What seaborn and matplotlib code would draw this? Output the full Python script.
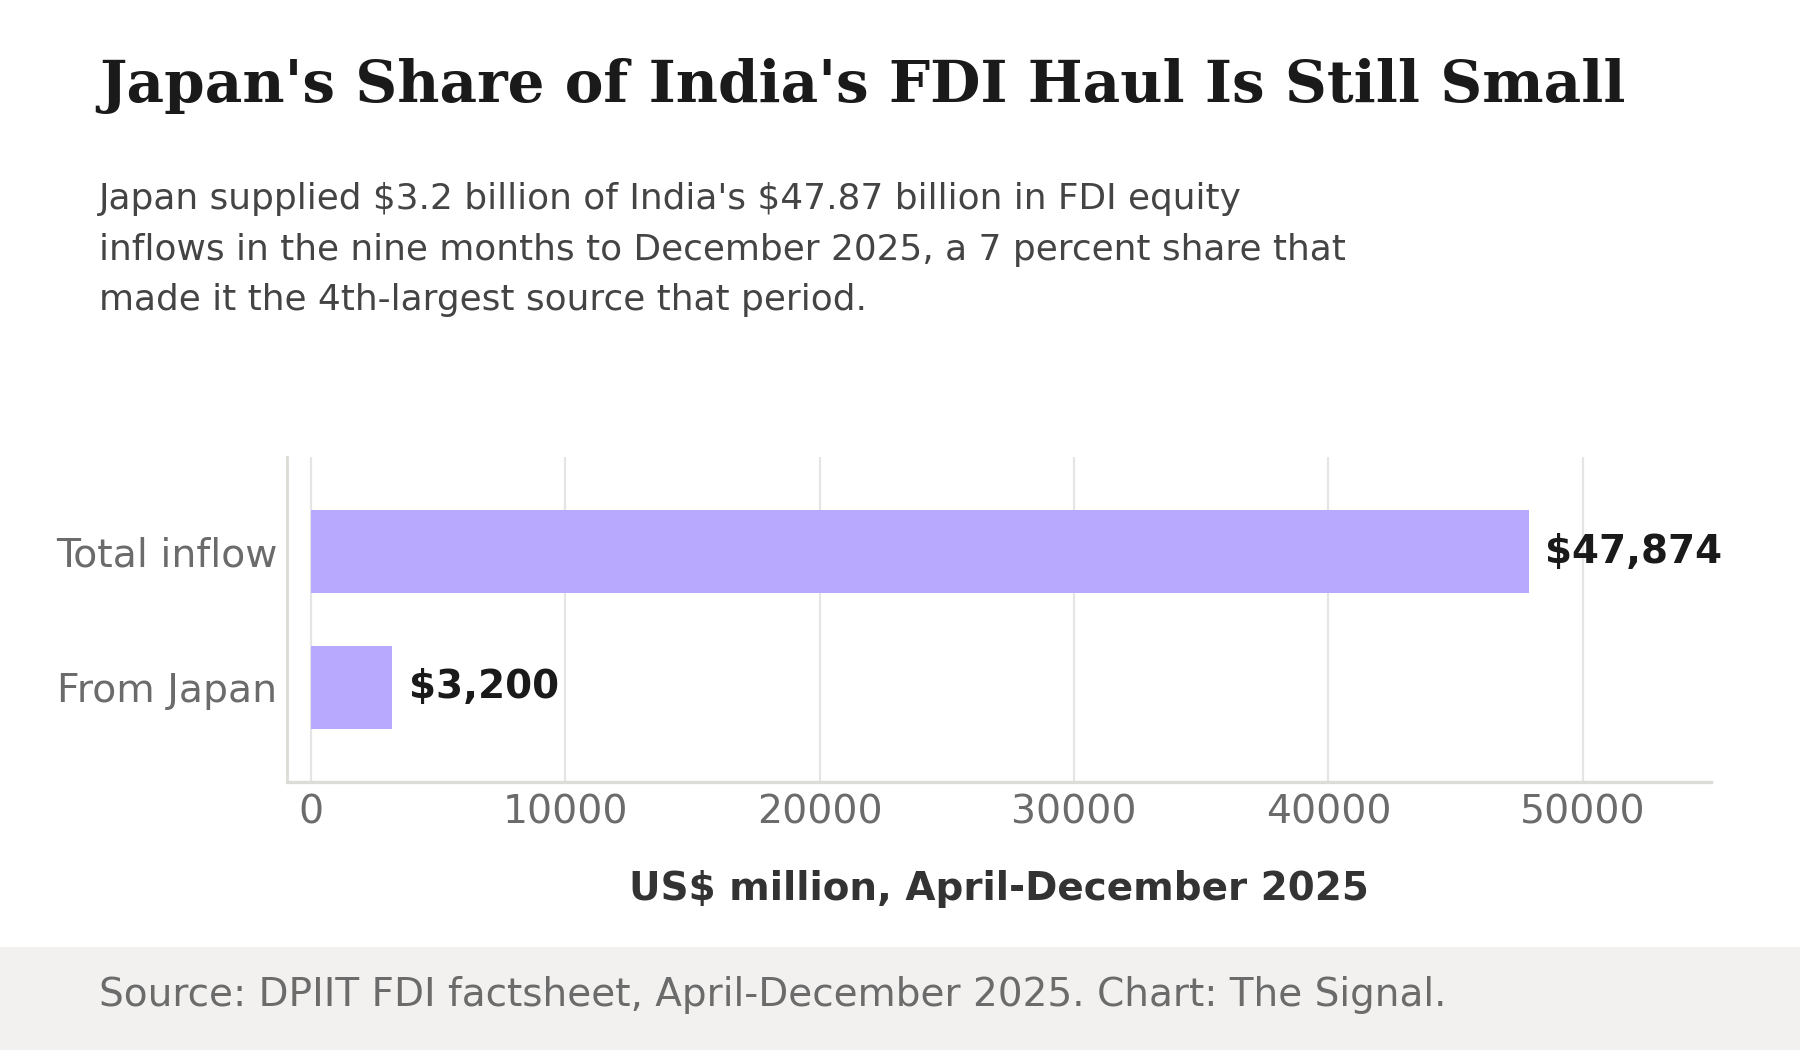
import matplotlib
matplotlib.use("Agg")
import matplotlib.pyplot as plt
import seaborn as sns
import pandas as pd

categories = ["Total inflow", "From Japan"]
values = [47874, 3200]
bar_labels = ["$47,874", "$3,200"]

title = "Japan's Share of India's FDI Haul Is Still Small"
subtitle = ("Japan supplied $3.2 billion of India's $47.87 billion in FDI equity\n"
            "inflows in the nine months to December 2025, a 7 percent share that\n"
            "made it the 4th-largest source that period.")
xlabel = "US$ million, April-December 2025"
source = "Source: DPIIT FDI factsheet, April-December 2025. Chart: The Signal."

sns.set_theme(style="whitegrid")
plt.rcParams["font.family"] = ["DejaVu Sans"]
plt.rcParams["text.parse_math"] = False

df = pd.DataFrame({"category": categories, "value": values})

fig = plt.figure(figsize=(9, 5.25), dpi=200)
fig.patch.set_facecolor("white")

# footer band
fig.patches.append(plt.Rectangle((0, 0), 1, 0.098, transform=fig.transFigure,
                                 facecolor="#f2f1f0", edgecolor="none", zorder=0))

ax = fig.add_axes([0.1594, 0.2552, 0.7912, 0.3096])
sns.barplot(data=df, x="value", y="category", color="#b8a9ff", width=0.61,
            saturation=1, linewidth=0, ax=ax, zorder=2)

ax.set_xlim(-950, 55050)
ax.set_ylim(1.7, -0.7)
ax.set_xticks([0, 10000, 20000, 30000, 40000, 50000])
ax.grid(axis="x", color="#e5e5e5", linewidth=0.8)
ax.grid(axis="y", visible=False)
ax.set_axisbelow(True)
for s in ["top", "right"]:
    ax.spines[s].set_visible(False)
ax.spines["left"].set_color("#dcdcd6")
ax.spines["bottom"].set_color("#dcdcd6")
ax.spines["left"].set_linewidth(1.0)
ax.spines["bottom"].set_linewidth(1.2)
ax.tick_params(axis="both", length=0, labelsize=14.2, labelcolor="#6b6b6b")
ax.tick_params(axis="y", pad=3.5)
ax.tick_params(axis="x", pad=4)
ax.set_ylabel("")
ax.set_xlabel(xlabel, fontsize=14, fontweight="bold", color="#333333", labelpad=14)

for i, (v, lab) in enumerate(zip(values, bar_labels)):
    ax.text(v + 650, i, lab, va="center", ha="left", fontsize=14,
            fontweight="bold", color="#1a1a1a")

fig.text(0.055, 0.918, title, family="DejaVu Serif", fontweight="bold",
         fontsize=20.9, color="#1a1a1a", va="center", ha="left")
fig.text(0.055, 0.8266, subtitle, fontsize=12.93, color="#444444",
         va="top", ha="left", linespacing=1.61)
fig.text(0.055, 0.052, source, fontsize=14.05, color="#6b6b6b",
         va="center", ha="left")

fig.savefig("out.png", dpi=200)
